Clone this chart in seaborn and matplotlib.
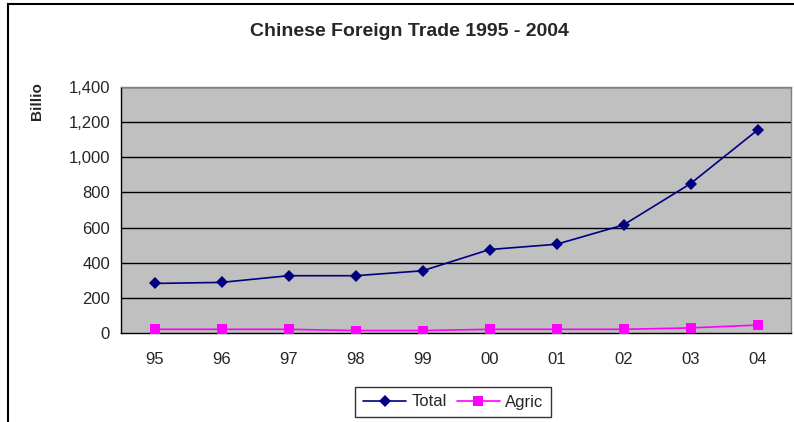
import matplotlib
matplotlib.use("Agg")
import matplotlib.pyplot as plt
import seaborn as sns
import pandas as pd
from matplotlib.patches import Rectangle

# data
years = ["95", "96", "97", "98", "99", "00", "01", "02", "03", "04"]
total = [282, 288, 326, 326, 354, 475, 505, 615, 850, 1155]
agric = [21, 21, 21, 14, 14, 21, 21, 21, 29, 45]

df = pd.DataFrame({
    "year": years * 2,
    "idx": list(range(len(years))) * 2,
    "value": total + agric,
    "series": ["Total"] * len(years) + ["Agric"] * len(years),
})

sns.set_style("white")
plt.rcParams['font.family'] = ['Liberation Sans', 'DejaVu Sans']

fig = plt.figure(figsize=(7.94, 4.22), dpi=100)
ax = fig.add_axes([121 / 794, 1 - 333 / 422, 670 / 794, 246 / 422])
ax.set_facecolor("#C0C0C0")

for y in range(200, 1401, 200):
    ax.axhline(y, color="black", linewidth=1, zorder=1)

sns.lineplot(data=df, x="idx", y="value", hue="series", style="series",
             palette={"Total": "#000080", "Agric": "#FF00FF"},
             markers={"Total": "D", "Agric": "s"}, dashes=False,
             markersize=6.5, markeredgewidth=0, linewidth=1.2, ax=ax, zorder=3)

ax.set_xlim(-0.5, len(years) - 0.5)
ax.set_ylim(0, 1400)
ax.set_yticks(range(0, 1401, 200))
ax.set_yticklabels([f"{v:,}" for v in range(0, 1401, 200)], fontsize=12)
ax.set_xticks([i - 0.5 for i in range(len(years) + 1)])
ax.set_xticklabels([])
ax.set_xticks(range(len(years)), minor=True)
ax.set_xticklabels(years, minor=True, fontsize=12)
ax.tick_params(axis="x", which="major", direction="out", length=6, color="black", width=1)
ax.tick_params(axis="x", which="minor", length=0, pad=14)
ax.tick_params(axis="y", direction="out", length=5, color="black", width=1, pad=3)
ax.set_xlabel("")
ax.set_ylabel("")

for side in ["left", "bottom"]:
    ax.spines[side].set_color("black")
    ax.spines[side].set_linewidth(1)
for side in ["top", "right"]:
    ax.spines[side].set_color("#808080")
    ax.spines[side].set_linewidth(1)

fig.text(409 / 794, 1 - 31 / 422, "Chinese Foreign Trade 1995 - 2004", fontsize=14,
         fontweight="bold", ha="center", va="center")
fig.text(37 / 794, 1 - 101 / 422, "Billio", rotation=90, fontsize=11, fontweight="bold",
         ha="center", va="center")

leg = ax.legend(loc="center", bbox_to_anchor=((453 - 121) / 670, (333 - 402) / 246), ncol=2,
                frameon=True, fancybox=False, edgecolor="black", fontsize=12, handlelength=2.6,
                columnspacing=0.6, handletextpad=0.3, borderpad=0.45, borderaxespad=0)
leg.get_frame().set_linewidth(1)

# outer chart frame (top and left edges visible)
fig.patches.append(Rectangle((8 / 794, -0.05), 1.1, 1 - 4 / 422 + 0.05, transform=fig.transFigure,
                             fill=False, edgecolor="black", linewidth=1.5))

fig.savefig("out.png", dpi=100)
